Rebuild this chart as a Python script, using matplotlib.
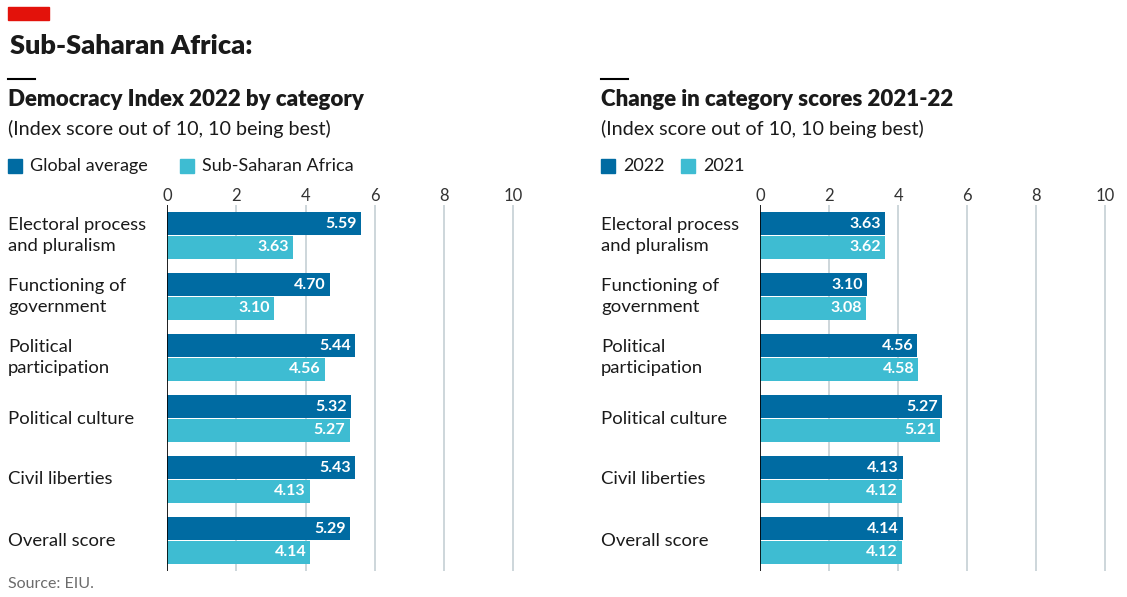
import numpy as np
import matplotlib.pyplot as plt

plt.rcParams['font.family'] = ['Lato', 'DejaVu Sans']

categories = ["Electoral process\nand pluralism", "Functioning of\ngovernment", "Political\nparticipation",
              "Political culture", "Civil liberties", "Overall score"]
global_avg = [5.59, 4.70, 5.44, 5.32, 5.43, 5.29]
ssa = [3.63, 3.10, 4.56, 5.27, 4.13, 4.14]
ssa_2022 = [3.63, 3.10, 4.56, 5.27, 4.13, 4.14]
ssa_2021 = [3.62, 3.08, 4.58, 5.21, 4.12, 4.12]
ticks = [0, 2, 4, 6, 8, 10]

DARK = '#006ba2'
LIGHT = '#3ebcd2'
GRID = '#c9d3d8'
TXT = '#1a1a1a'

W, H = 1127, 597
fig = plt.figure(figsize=(W / 100, H / 100), dpi=100)


def fx(x):
    return x / W


def fy(y):
    return 1 - y / H


def panel(x0, x1, lab_x, title, leg_labels, a, b):
    top, bot = 205, 571
    ax = fig.add_axes([fx(x0), fy(bot), fx(x1) - fx(x0), (bot - top) / H])
    y = np.arange(len(categories))
    h = 0.375
    ax.barh(y - 0.195, a, height=h, color=DARK, zorder=3)
    ax.barh(y + 0.195, b, height=h, color=LIGHT, zorder=3)
    for i in range(len(categories)):
        ax.text(a[i] - 0.12, y[i] - 0.19, f"{a[i]:.2f}", color='white', ha='right', va='center',
                fontsize=11.5, fontweight='bold', zorder=4)
        ax.text(b[i] - 0.12, y[i] + 0.19, f"{b[i]:.2f}", color='white', ha='right', va='center',
                fontsize=11.5, fontweight='bold', zorder=4)
        fig.text(fx(lab_x), fy(bot) + (bot - top) / H * (5.5 - y[i]) / 6, categories[i],
                 ha='left', va='center', fontsize=13.3, color=TXT, linespacing=1.45)
    ax.set_xlim(0, 10.02)
    ax.set_ylim(5.5, -0.5)
    ax.set_xticks(ticks)
    ax.xaxis.tick_top()
    ax.tick_params(axis='x', length=0, labelsize=12, labelcolor='#333333', pad=1)
    ax.set_yticks([])
    for s in ax.spines.values():
        s.set_visible(False)
    ax.grid(axis='x', color=GRID, linewidth=1.3, zorder=0)
    ax.axvline(0, color='black', linewidth=1.2, zorder=5)

    # header
    fig.add_artist(plt.Line2D([fx(lab_x), fx(lab_x + 27)], [fy(79), fy(79)], color='black', lw=1.5))
    fig.text(fx(lab_x), fy(100), title, fontsize=16, fontweight='heavy', color=TXT, va='center')
    fig.text(fx(lab_x), fy(129), "(Index score out of 10, 10 being best)", fontsize=14.2,
             color=TXT, va='center')
    fig.add_artist(plt.Rectangle((fx(lab_x), fy(173)), fx(14), 14 / H, color=DARK))
    fig.text(fx(lab_x + 22), fy(166), leg_labels[0], fontsize=13, color=TXT, va='center')
    off = 172 if lab_x < 100 else 80
    fig.add_artist(plt.Rectangle((fx(lab_x + off), fy(173)), fx(14), 14 / H, color=LIGHT))
    fig.text(fx(lab_x + off + 22), fy(166), leg_labels[1], fontsize=13, color=TXT, va='center')
    return ax


panel(167, 514, 8, "Democracy Index 2022 by category", ["Global average", "Sub-Saharan Africa"],
      global_avg, ssa)
panel(760, 1106, 601, "Change in category scores 2021-22", ["2022", "2021"], ssa_2022, ssa_2021)

fig.add_artist(plt.Rectangle((fx(8), fy(20)), fx(41), 13 / H, color='#e3120b'))
fig.text(fx(10), fy(46), "Sub-Saharan Africa:", fontsize=19.5, fontweight='heavy', color=TXT, va='center')
fig.text(fx(8), fy(584), "Source: EIU.", fontsize=11.5, color='#6b6b6b', va='center')

fig.savefig('out.png', dpi=100)
